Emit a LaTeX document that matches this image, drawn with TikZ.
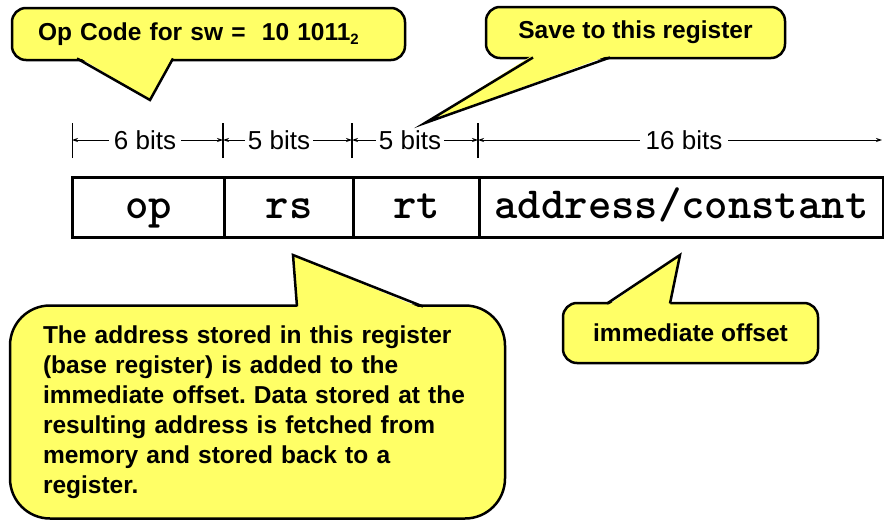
\documentclass[tikz,border=0pt]{standalone}
\usepackage{fontspec}
\setmainfont{Liberation Sans}
\usetikzlibrary{arrows.meta}
\definecolor{cyellow}{RGB}{255,255,102}
\frenchspacing
\tikzset{
  field/.style={draw, line width=3pt, inner sep=0pt, minimum height=60pt, anchor=west,
                text height=22pt, text depth=0pt,
                font=\fontsize{44.5}{44.5}\selectfont\ttfamily\bfseries},
  bitlabel/.style={fill=white, inner xsep=3pt, inner ysep=1pt, font=\fontsize{26}{26}\selectfont},
  dimline/.style={line width=0.8pt, {Stealth[length=6pt,width=4pt]}-{Stealth[length=6pt,width=4pt]}},
  tick/.style={line width=1.6pt},
  cbox/.style={draw, fill=cyellow, line width=2.5pt, inner ysep=0pt,
               font=\fontsize{24.5}{30}\selectfont\bfseries\frenchspacing},
  tailfill/.style={fill=cyellow},
  tailedge/.style={line width=2.5pt, line join=miter},
}
\begin{document}
\begin{tikzpicture}[x=1pt,y=-1pt]
\useasboundingbox[fill=white] (0,0) rectangle (884,522);

% fields
\node[field, minimum width=152pt] (op) at (71,207) {op};
\node[field, minimum width=129pt] (rs) at (223,207) {rs};
\node[field, minimum width=126pt] (rt) at (352,207) {rt};
\node[field, minimum width=404pt] (addr) at (478,207) {address/constant};

% bit ticks
\coordinate (t0) at (72,140);
\coordinate (t1) at (223,140);
\coordinate (t2) at (352,140);
\coordinate (t3) at (478,140);
\coordinate (t4) at (882,140);
\draw[line width=0.8pt] ([yshift=-18pt]t0) -- ([yshift=17pt]t0);
\draw[tick] ([yshift=-18pt]t1) -- ([yshift=17pt]t1);
\draw[tick] ([yshift=-18pt]t2) -- ([yshift=17pt]t2);
\draw[tick] ([yshift=-18pt]t3) -- ([yshift=17pt]t3);
\draw[dimline] (t0) -- (t1);
\draw[dimline] (t1) -- (t2);
\draw[dimline] (t2) -- (t3);
\draw[dimline] (t3) -- (t4);
\node[bitlabel, inner xsep=5pt] (b6) at (145,140) {6 bits};
\node[bitlabel] (b5a) at (279,140) {5 bits};
\node[bitlabel] (b5b) at (410,140) {5 bits};
\node[bitlabel, inner xsep=6pt] (b16) at (684,140) {16 bits};

% callout: op code
\node[cbox, rounded corners=14pt, minimum width=393pt, minimum height=52pt,
      inner xsep=26pt, text width=341pt, align=left] (opc) at (208.5,34)
      {Op Code for sw =\ \ 10 1011{\raisebox{-0.35ex}{\fontsize{15}{15}\selectfont 2}}};
\coordinate (opctip) at (150,100);
\fill[tailfill] (77,56) -- (150,100) -- (173,56) -- cycle;
\draw[tailedge] (77,58.5) -- (opctip) -- (173,58.5);

% callout: save
\node[cbox, rounded corners=14pt, minimum width=299pt, minimum height=51pt] (savec) at (635.5,32.5)
      {Save to this register};
\coordinate (savetip) at (425,123);
\fill[tailfill] (533,55) -- (savetip) -- (610,55) -- cycle;
\draw[tailedge] (533,57.5) -- (savetip) -- (610,57.5);

% callout: immediate offset
\node[cbox, rounded corners=14pt, minimum width=255pt, minimum height=60pt] (immc) at (690.5,333)
      {immediate offset};
\coordinate (immtip) at (680,255);
\fill[tailfill] (607,306) -- (immtip) -- (670,306) -- cycle;
\draw[tailedge] (607,303.5) -- (immtip) -- (670,303.5);

% callout: base register
\node[cbox, rounded corners=40pt, minimum width=495pt, minimum height=213pt,
      inner xsep=33pt, text width=429pt, align=left] (basec) at (257.5,412)
      {The address stored in this register\\
       (base register) is added to the\\
       immediate offset. Data stored at the\\
       resulting address is fetched from\\
       memory and stored back to a\\
       register.};
\coordinate (basetip) at (293,255);
\fill[tailfill] (297,309) -- (basetip) -- (423,309) -- cycle;
\draw[tailedge] (297,306.5) -- (basetip) -- (423,306.5);
\end{tikzpicture}
\end{document}
